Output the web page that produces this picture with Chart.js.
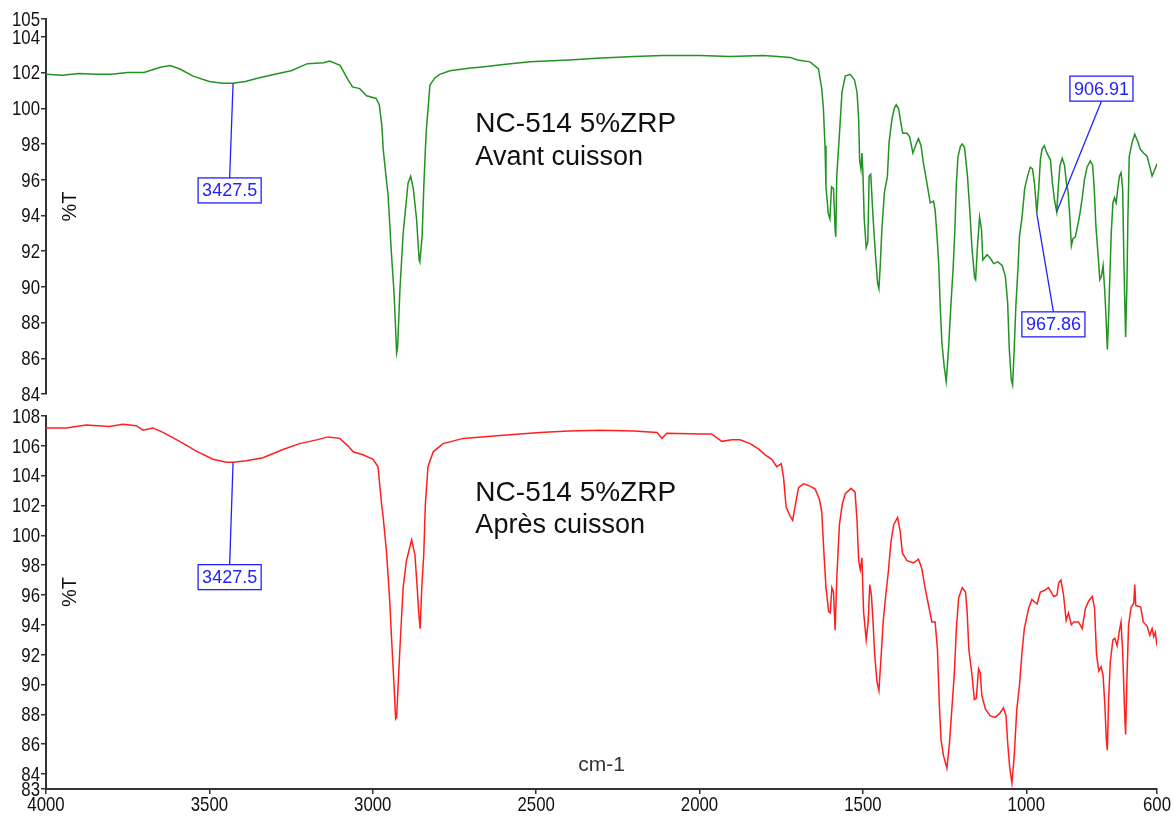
<!DOCTYPE html>
<html>
<head>
<meta charset="utf-8">
<script src="https://cdn.jsdelivr.net/npm/chart.js@4.4.1/dist/chart.umd.min.js"></script>
<style>
body{margin:0;background:#fff;width:1173px;height:816px;overflow:hidden;position:relative}
.pane{position:absolute;left:0;width:1173px}
#top{top:0;height:410px}
#bot{top:400px;height:416px}
</style>
</head>
<body>
<div class="pane" id="top"><canvas id="chTop"></canvas></div>
<div class="pane" id="bot"><canvas id="chBot"></canvas></div>
<script>
// ---- spectrum "avant cuisson" (green, top) ----
const wnTop = [4000,3950,3900,3850,3800,3750,3700,3650,3620,3590,3550,3500,3460,3427.5,3390,3350,3300,3250,3200,3150,3132,3100,3076,3062,3040,3019,2990,2980,2972,2968,2960,2953,2943,2935,2930,2927,2924,2917,2907,2892,2884,2876,2866,2858,2856,2849,2844,2839,2836,2825,2810,2795,2764,2700,2672,2600,2519,2400,2315,2200,2112,2000,1907,1805,1760,1723,1700,1662,1636,1626,1621,1616,1613,1606,1601,1596,1590,1585,1583,1580,1572,1564,1554,1539,1526,1518,1513,1510,1506,1503,1500,1496,1490,1485,1481,1476,1469,1462,1455,1451,1447,1442,1434,1425,1420,1411,1404,1398,1391,1384,1378,1365,1357,1347,1337,1330,1322,1315,1304,1294,1284,1279,1273,1268,1263,1258,1251,1245,1238,1231,1224,1219,1214,1209,1201,1196,1189,1180,1173,1166,1158,1155,1150,1143,1137,1133,1120,1110,1100,1087,1074,1064,1057,1052,1046,1042,1037,1032,1025,1021,1013,1005,996,988,981,975,971,967.86,962,957,952,945,937,926,920,914,906.91,902,897,890,883,877,872,867,862,857,850,843,835,828,822,814,804,797,792,787,780,775,770,765,760,756,752,748,745,740,735,730,725,720,715,710,705,702,699,696,692,689,685,676,668,658,651,641,630,623,615,608,600];
const tTop = [101.9,101.85,101.95,101.9,101.9,102.0,102.0,102.3,102.4,102.2,101.8,101.5,101.4,101.4,101.5,101.7,101.9,102.1,102.5,102.55,102.65,102.4,101.6,101.2,101.1,100.7,100.55,100.2,99.0,97.7,96.3,95.1,91.9,89.7,87.6,86.3,86.6,89.8,93.0,95.8,96.2,95.5,93.8,91.5,91.4,92.8,95.5,97.7,98.8,101.3,101.7,101.9,102.1,102.25,102.3,102.45,102.6,102.7,102.8,102.9,102.95,102.95,102.9,102.95,102.9,102.85,102.7,102.6,102.2,101.1,100.0,97.9,95.6,94.1,93.8,95.6,95.5,93.2,92.8,96.2,98.5,100.9,101.8,101.9,101.6,100.9,99.4,97.1,96.6,97.5,96.4,93.8,92.2,92.5,96.2,96.3,93.9,91.9,90.2,89.9,91.2,93.2,95.3,96.2,98.1,99.4,100.0,100.2,100.0,99.2,98.6,98.6,98.4,97.5,98.0,98.3,97.9,96.95,95.8,94.7,94.8,94.3,92.8,91.3,88.7,86.8,85.5,84.7,86.5,88.9,91.0,93.0,95.8,97.3,97.9,98.0,97.8,96.2,94.3,92.1,90.5,90.4,92.1,93.9,93.2,91.5,91.8,91.6,91.3,91.4,91.2,90.6,89.1,86.5,84.8,84.5,86.5,88.9,91.2,92.8,93.9,95.5,96.2,96.7,96.6,95.8,94.9,94.1,95.5,97.1,97.7,97.9,97.5,97.1,95.8,94.9,94.2,95.6,96.8,97.2,96.8,95.8,95.3,94.0,92.3,92.7,92.8,93.4,94.2,95.1,96.0,96.7,97.05,96.8,95.5,93.4,91.7,90.4,90.6,91.2,89.8,88.3,86.5,88.3,90.2,93.0,94.7,95.0,94.7,95.5,96.2,96.4,95.5,92.1,89.5,87.2,90.2,93.9,97.3,98.1,98.55,98.1,97.7,97.5,97.3,96.8,96.2,96.5,96.9];

// ---- spectrum "après cuisson" (red, bottom) ----
const wnBot = [4000,3938,3877,3806,3765,3724,3703,3673,3642,3591,3540,3489,3448,3427.5,3387,3336,3275,3224,3172,3137,3101,3076,3060,3030,2999,2984,2973,2968,2958,2948,2943,2935,2930,2927,2917,2907,2897,2881,2871,2864,2859,2855,2850,2844,2839,2831,2815,2785,2723,2611,2488,2400,2305,2200,2130,2115,2100,1999,1963,1932,1901,1876,1845,1820,1799,1779,1764,1750,1743,1735,1723,1715,1708,1697,1682,1662,1646,1633,1626,1619,1613,1605,1600,1595,1590,1585,1580,1572,1563,1554,1536,1524,1518,1513,1508,1503,1498,1490,1484,1479,1474,1469,1464,1457,1451,1444,1438,1431,1422,1414,1406,1394,1386,1379,1365,1345,1330,1320,1310,1299,1289,1279,1272,1266,1261,1253,1243,1235,1228,1220,1214,1207,1196,1186,1181,1176,1166,1159,1153,1146,1141,1136,1125,1110,1095,1080,1070,1062,1057,1051,1044,1037,1029,1021,1013,1006,993,983,967,957,945,932,916,906,901,894,886,878,871,862,855,840,829,819,809,798,791,785,778,771,765,760,755,752,748,743,735,729,722,716,710,705,699,696,692,687,679,671,668,665,650,642,630,622,615,610,605,600];
const tBot = [107.2,107.2,107.4,107.3,107.45,107.35,107.05,107.2,106.9,106.3,105.65,105.1,104.9,104.9,105.0,105.2,105.75,106.15,106.4,106.6,106.5,106.0,105.6,105.4,105.1,104.6,102.1,101.2,98.9,95.6,93.3,90.0,87.7,87.8,92.4,96.5,98.3,99.7,98.7,96.5,94.7,93.75,96.5,98.7,102.1,104.6,105.6,106.15,106.5,106.7,106.9,107.0,107.05,107.0,106.9,106.5,106.85,106.8,106.8,106.3,106.4,106.4,106.15,105.8,105.4,105.1,104.6,104.8,103.9,101.9,101.3,101.0,101.9,103.2,103.45,103.3,103.1,102.4,101.6,98.7,96.5,94.9,94.8,96.5,96.2,93.65,97.1,100.7,102.1,102.8,103.15,102.9,101.0,98.3,97.7,98.5,94.9,93.0,94.2,96.7,96.0,94.2,92.0,90.2,89.6,92.0,94.2,95.8,97.6,99.6,100.7,101.2,100.3,98.8,98.3,98.15,98.4,97.8,96.5,95.3,94.2,94.2,92.4,88.6,86.3,85.2,84.4,86.1,88.3,90.8,93.75,95.8,96.5,96.2,94.9,92.4,90.6,89.0,89.1,91.05,90.8,89.25,88.35,87.9,87.8,88.1,88.45,87.9,86.1,84.5,83.4,85.2,88.35,89.9,92.2,93.75,95.1,95.7,95.4,96.2,96.3,96.5,95.9,96.0,96.8,97.0,96.0,94.3,94.8,94.0,94.2,94.2,93.75,95.1,95.6,95.9,95.1,92.0,90.9,91.2,90.6,88.8,86.3,85.6,89.0,91.5,93.0,93.1,92.6,93.5,94.2,92.2,88.1,86.65,90.4,94.0,95.2,95.45,96.7,95.3,95.2,94.2,93.9,93.3,93.75,93.2,93.5,92.6];

// marked peaks and tick labels
const peaksTop = [3427.5, 967.86, 906.91];
const peaksBot = [3427.5];
const xTicks = [4000, 3500, 3000, 2500, 2000, 1500, 1000, 600];
const yTicksTop = [84, 86, 88, 90, 92, 94, 96, 98, 100, 102, 104, 105];
const yTicksBot = [83, 84, 86, 88, 90, 92, 94, 96, 98, 100, 102, 104, 106, 108];

const sans = '"Liberation Sans", Arial, sans-serif';
const toPts = (xs, ys) => xs.map((x, i) => ({x: x, y: ys[i]}));

// tick labels, squeezed sideways like the narrow font of the original
const narrowTicks = {
  id: 'narrowTicks',
  afterDraw(chart) {
    const c = chart.ctx;
    c.save();
    c.fillStyle = '#111';
    c.font = '21px ' + sans;
    Object.values(chart.scales).forEach(s => {
      if (s.options.display === false) return;
      s.ticks.forEach(t => {
        const p = s.getPixelForValue(t.value);
        c.save();
        if (s.axis === 'y') {
          c.translate(s.right - 6, p + 1);
          c.textAlign = 'right'; c.textBaseline = 'middle';
        } else {
          c.translate(p, s.top + 6);
          c.textAlign = 'center'; c.textBaseline = 'top';
        }
        c.scale(0.8, 1);
        c.fillText(String(t.value), 0, 0);
        c.restore();
      });
    });
    c.restore();
  }
};

// draws peak boxes, captions and axis names
const notes = {
  id: 'notes',
  afterDatasetsDraw(chart, args, o) {
    const c = chart.ctx, xs = chart.scales.x, ys = chart.scales.y;
    const pts = chart.data.datasets[0].data;
    c.save();
    (o.peaks || []).forEach((p, i) => {
      const pt = pts.find(d => d.x === p);
      const px = xs.getPixelForValue(p), py = ys.getPixelForValue(pt.y);
      const bx = xs.getPixelForValue(o.boxes[i][0]), by = ys.getPixelForValue(o.boxes[i][1]);
      c.font = '18px ' + sans;
      const txt = String(p);
      const w = c.measureText(txt).width + 8, h = 25;
      const ey = by > py ? by - h / 2 : by + h / 2;
      c.strokeStyle = '#2222ff'; c.lineWidth = 1.3;
      c.beginPath(); c.moveTo(px, py); c.lineTo(bx, ey); c.stroke();
      c.fillStyle = '#fff'; c.fillRect(bx - w / 2, by - h / 2, w, h);
      c.strokeRect(bx - w / 2, by - h / 2, w, h);
      c.fillStyle = '#2222ff'; c.textAlign = 'center'; c.textBaseline = 'middle';
      c.fillText(txt, bx, by + 1);
    });
    (o.texts || []).forEach(t => {
      c.save();
      c.translate(xs.getPixelForValue(t.x), ys.getPixelForValue(t.y));
      if (t.rot) c.rotate(-Math.PI / 2);
      c.font = t.size + 'px ' + sans;
      c.fillStyle = t.color || '#111';
      c.textAlign = t.align || 'left';
      c.textBaseline = t.base || 'alphabetic';
      c.fillText(t.s, 0, 0);
      c.restore();
    });
    c.restore();
  }
};

function yScale(min, max, ticks) {
  return {
    min: min, max: max,
    afterBuildTicks: s => { s.ticks = ticks.map(v => ({value: v})); },
    afterFit: s => { s.width = 46; },
    ticks: {display: false},
    grid: {drawOnChartArea: false, drawTicks: true, tickLength: 5, color: '#333', lineWidth: 1.5},
    border: {display: true, color: '#333', width: 2}
  };
}

new Chart(document.getElementById('chTop'), {
  type: 'line',
  data: {datasets: [{data: toPts(wnTop, tTop), borderColor: '#229322', borderWidth: 1.5, pointRadius: 0, tension: 0}]},
  options: {
    responsive: true, maintainAspectRatio: false, animation: false,
    layout: {padding: {top: 19, right: 16, bottom: 16, left: 0}},
    scales: {
      x: {type: 'linear', min: 600, max: 4000, reverse: true, display: false},
      y: yScale(84, 105, yTicksTop)
    },
    plugins: {
      legend: {display: false}, tooltip: {enabled: false},
      notes: {
        peaks: peaksTop,
        boxes: [[3438, 95.4], [917, 87.9], [770, 101.1]],
        texts: [
          {s: 'NC-514 5%ZRP', x: 2686, y: 98.67, size: 28},
          {s: 'Avant cuisson', x: 2686, y: 96.83, size: 27},
          {s: '%T', x: 3924, y: 94.5, size: 20, rot: true, align: 'center', base: 'middle'}
        ]
      }
    }
  },
  plugins: [notes, narrowTicks]
});

new Chart(document.getElementById('chBot'), {
  type: 'line',
  data: {datasets: [{data: toPts(wnBot, tBot), borderColor: '#ff1f1f', borderWidth: 1.5, pointRadius: 0, tension: 0}]},
  options: {
    responsive: true, maintainAspectRatio: false, animation: false,
    layout: {padding: {top: 16, right: 16, bottom: 0, left: 0}},
    scales: {
      x: {
        type: 'linear', min: 600, max: 4000, reverse: true,
        afterBuildTicks: s => { s.ticks = xTicks.map(v => ({value: v})); },
        afterFit: s => { s.height = 27; },
        ticks: {display: false},
        grid: {drawOnChartArea: false, drawTicks: true, tickLength: 5, color: '#333', lineWidth: 1.5},
        border: {display: true, color: '#333', width: 2}
      },
      y: yScale(83, 108, yTicksBot)
    },
    plugins: {
      legend: {display: false}, tooltip: {enabled: false},
      notes: {
        peaks: peaksBot,
        boxes: [[3438, 97.2]],
        texts: [
          {s: 'NC-514 5%ZRP', x: 2686, y: 102.3, size: 28},
          {s: 'Après cuisson', x: 2686, y: 100.16, size: 27},
          {s: '%T', x: 3926, y: 96.2, size: 20, rot: true, align: 'center', base: 'middle'},
          {s: 'cm-1', x: 2300, y: 84.6, size: 21, align: 'center', base: 'middle', color: '#333'}
        ]
      }
    }
  },
  plugins: [notes, narrowTicks]
});
</script>
</body>
</html>
